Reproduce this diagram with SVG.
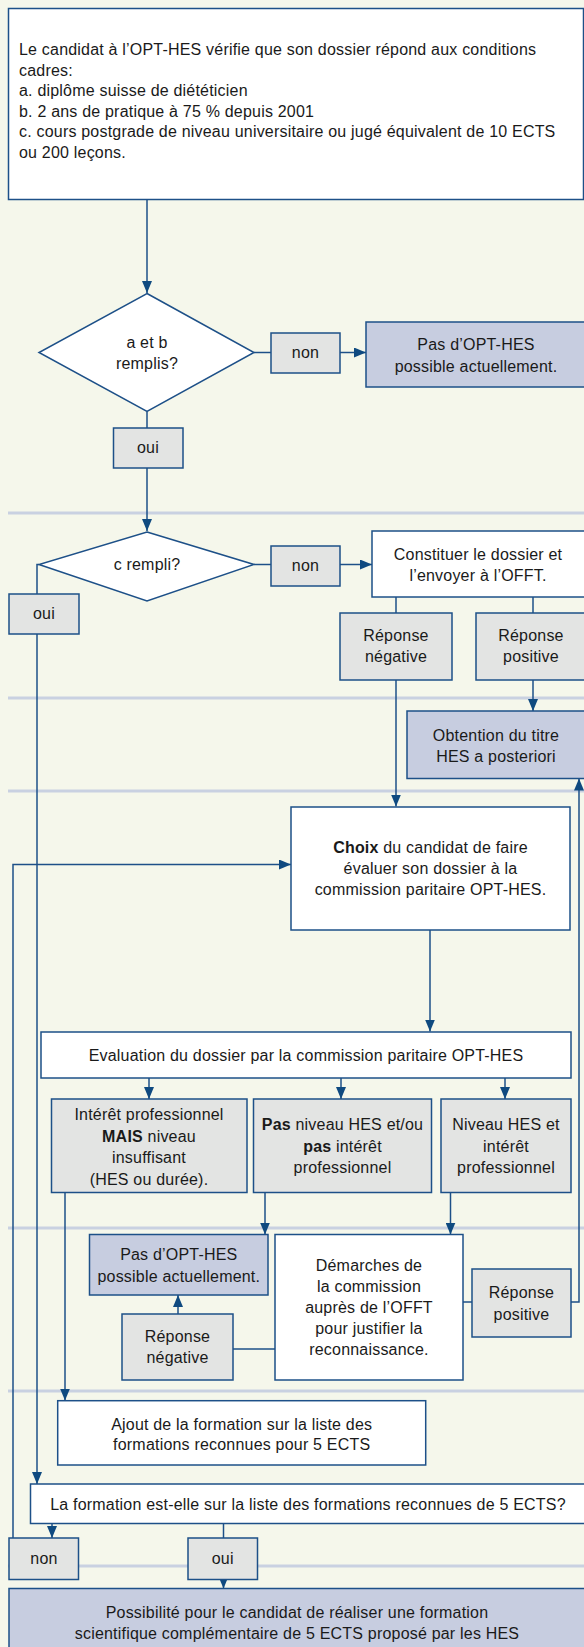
<svg xmlns="http://www.w3.org/2000/svg" width="584" height="1647" viewBox="0 0 584 1647">
<defs>
<style>
text{font-family:"Liberation Sans",Arial,sans-serif;font-size:16px;letter-spacing:0.2px;fill:#1a1a1a}
.c{text-anchor:middle}
.b{font-weight:bold}
.box{stroke:#1d5088;stroke-width:1.5}
.w{fill:#ffffff}
.g{fill:#e3e4e3}
.p{fill:#c7cde0}
.sep{stroke:#c9d1e1;stroke-width:3;fill:none}
.ln{stroke:#1d5088;stroke-width:1.5;fill:none}
.ar{stroke:#1d5088;stroke-width:1.5;fill:none;marker-end:url(#ah)}
</style>
<marker id="ah" markerUnits="userSpaceOnUse" markerWidth="12" markerHeight="10" refX="12" refY="5" orient="auto">
<path d="M0,0 L12,5 L0,10 Z" fill="#0f4a80"/>
</marker>
</defs>
<rect x="0" y="0" width="584" height="1647" fill="#f5f7eb"/>
<g id="separators">
<line class="sep" x1="8" y1="513" x2="584" y2="513"/>
<line class="sep" x1="8" y1="698" x2="584" y2="698"/>
<line class="sep" x1="8" y1="791" x2="584" y2="791"/>
<line class="sep" x1="8" y1="1228" x2="584" y2="1228"/>
<line class="sep" x1="8" y1="1391" x2="584" y2="1391"/>
<line class="sep" x1="8" y1="1566" x2="584" y2="1566"/>
</g>
<g id="connectors">
<path class="ar" d="M147,199.5 V293"/>
<path class="ln" d="M254,352.5 H271"/>
<path class="ar" d="M340,352.5 H366"/>
<path class="ln" d="M147,411.5 V428"/>
<path class="ar" d="M147,468 V531"/>
<path class="ln" d="M254,564.5 H271"/>
<path class="ar" d="M340,564.5 H372"/>
<path class="ln" d="M39,564.5 H37 V594"/>
<path class="ar" d="M37,634 V1484"/>
<path class="ln" d="M396,597 V613"/>
<path class="ln" d="M533,597 V613"/>
<path class="ar" d="M396,680 V806.5"/>
<path class="ar" d="M533,680 V711"/>
<path class="ar" d="M13,1538 V864.5 H291"/>
<path class="ar" d="M571,1302 H579 V778.5"/>
<path class="ar" d="M430,930 V1031.5"/>
<path class="ar" d="M149,1078 V1099"/>
<path class="ar" d="M341,1078 V1099"/>
<path class="ar" d="M505,1078 V1099"/>
<path class="ar" d="M65,1192.5 V1400.5"/>
<path class="ar" d="M265,1192.5 V1234.5"/>
<path class="ar" d="M450.5,1192.5 V1234.5"/>
<path class="ar" d="M178,1314 V1295"/>
<path class="ln" d="M233,1349 H275"/>
<path class="ln" d="M463,1302 H472"/>
<path class="ar" d="M52,1523.5 V1538"/>
<path class="ln" d="M223.5,1523.5 V1538"/>
<path class="ar" d="M223.5,1579.5 V1588.5"/>
</g>
<g id="n_start">
<rect class="box w" x="8.5" y="8.5" width="575" height="191"/>
<text x="19" y="55">Le candidat à l’OPT-HES vérifie que son dossier répond aux conditions</text>
<text x="19" y="75.5">cadres:</text>
<text x="19" y="96">a. diplôme suisse de diététicien</text>
<text x="19" y="116.5">b. 2 ans de pratique à 75 % depuis 2001</text>
<text x="19" y="137">c. cours postgrade de niveau universitaire ou jugé équivalent de 10 ECTS</text>
<text x="19" y="157.5">ou 200 leçons.</text>
</g>
<g id="n_d1">
<polygon class="box w" points="147,293.5 254,352.5 147,411.5 39,352.5"/>
<text class="c" x="147" y="348">a et b</text>
<text class="c" x="147" y="369">remplis?</text>
</g>
<g id="n_non1">
<rect class="box g" x="271" y="333" width="69" height="40"/>
<text class="c" x="305.5" y="358">non</text>
</g>
<g id="n_pas1">
<rect class="box p" x="366" y="322" width="220" height="65"/>
<text class="c" x="476" y="350">Pas d’OPT-HES</text>
<text class="c" x="476" y="372">possible actuellement.</text>
</g>
<g id="n_oui1">
<rect class="box g" x="113.5" y="428" width="69.5" height="40"/>
<text class="c" x="148" y="453">oui</text>
</g>
<g id="n_d2">
<polygon class="box w" points="147,532 254,564.5 147,601 39,564.5"/>
<text class="c" x="147" y="569.5">c rempli?</text>
</g>
<g id="n_non2">
<rect class="box g" x="271" y="546" width="69" height="40"/>
<text class="c" x="305.5" y="571">non</text>
</g>
<g id="n_constituer">
<rect class="box w" x="372" y="531" width="214" height="66"/>
<text class="c" x="478" y="560">Constituer le dossier et</text>
<text class="c" x="478" y="581">l’envoyer à l’OFFT.</text>
</g>
<g id="n_oui2">
<rect class="box g" x="9" y="594" width="70" height="40"/>
<text class="c" x="44" y="619">oui</text>
</g>
<g id="n_neg1">
<rect class="box g" x="340" y="613" width="112" height="67"/>
<text class="c" x="396" y="641">Réponse</text>
<text class="c" x="396" y="662">négative</text>
</g>
<g id="n_pos1">
<rect class="box g" x="476" y="613" width="112" height="67"/>
<text class="c" x="531" y="641">Réponse</text>
<text class="c" x="531" y="662">positive</text>
</g>
<g id="n_obtention">
<rect class="box p" x="407" y="711" width="180" height="67.5"/>
<text class="c" x="496" y="741">Obtention du titre</text>
<text class="c" x="496" y="762">HES a posteriori</text>
</g>
<g id="n_choix">
<rect class="box w" x="291" y="807" width="279" height="123"/>
<text class="c" x="430.5" y="853"><tspan class="b">Choix</tspan> du candidat de faire</text>
<text class="c" x="430.5" y="874">évaluer son dossier à la</text>
<text class="c" x="430.5" y="895">commission paritaire OPT-HES.</text>
</g>
<g id="n_eval">
<rect class="box w" x="41" y="1032" width="530" height="46"/>
<text class="c" x="306" y="1061">Evaluation du dossier par la commission paritaire OPT-HES</text>
</g>
<g id="n_a">
<rect class="box g" x="51.5" y="1099" width="195.5" height="93.5"/>
<text class="c" x="149" y="1120">Intérêt professionnel</text>
<text class="c" x="149" y="1141.5"><tspan class="b">MAIS</tspan> niveau</text>
<text class="c" x="149" y="1163">insuffisant</text>
<text class="c" x="149" y="1184.5">(HES ou durée).</text>
</g>
<g id="n_b">
<rect class="box g" x="253.5" y="1099" width="178" height="93.5"/>
<text class="c" x="342.5" y="1130"><tspan class="b">Pas</tspan> niveau HES et/ou</text>
<text class="c" x="342.5" y="1152"><tspan class="b">pas</tspan> intérêt</text>
<text class="c" x="342.5" y="1173">professionnel</text>
</g>
<g id="n_c">
<rect class="box g" x="441" y="1099" width="130" height="93.5"/>
<text class="c" x="506" y="1130">Niveau HES et</text>
<text class="c" x="506" y="1152">intérêt</text>
<text class="c" x="506" y="1173">professionnel</text>
</g>
<g id="n_pas2">
<rect class="box p" x="89.5" y="1234.5" width="178.5" height="60.5"/>
<text class="c" x="178.8" y="1260">Pas d’OPT-HES</text>
<text class="c" x="178.8" y="1281.5">possible actuellement.</text>
</g>
<g id="n_demarches">
<rect class="box w" x="275" y="1234.5" width="188" height="145.5"/>
<text class="c" x="369" y="1270.5">Démarches de</text>
<text class="c" x="369" y="1291.5">la commission</text>
<text class="c" x="369" y="1313">auprès de l’OFFT</text>
<text class="c" x="369" y="1334">pour justifier la</text>
<text class="c" x="369" y="1355">reconnaissance.</text>
</g>
<g id="n_neg2">
<rect class="box g" x="122" y="1314" width="111" height="66"/>
<text class="c" x="177.5" y="1341.5">Réponse</text>
<text class="c" x="177.5" y="1362.5">négative</text>
</g>
<g id="n_pos2">
<rect class="box g" x="472" y="1269" width="99" height="68"/>
<text class="c" x="521.5" y="1298">Réponse</text>
<text class="c" x="521.5" y="1320">positive</text>
</g>
<g id="n_ajout">
<rect class="box w" x="57.7" y="1400.7" width="368" height="64.3"/>
<text class="c" x="241.7" y="1430">Ajout de la formation sur la liste des</text>
<text class="c" x="241.7" y="1450">formations reconnues pour 5 ECTS</text>
</g>
<g id="n_liste">
<rect class="box w" x="30.5" y="1484" width="560" height="39.5"/>
<text class="c" x="308" y="1509.5">La formation est-elle sur la liste des formations reconnues de 5 ECTS?</text>
</g>
<g id="n_non3">
<rect class="box g" x="9" y="1538" width="69.5" height="41.5"/>
<text class="c" x="44" y="1564">non</text>
</g>
<g id="n_oui3">
<rect class="box g" x="188" y="1538" width="69.5" height="41.5"/>
<text class="c" x="222.7" y="1564">oui</text>
</g>
<g id="n_final">
<rect class="box p" x="9" y="1588.5" width="580" height="70"/>
<text class="c" x="297" y="1617.5">Possibilité pour le candidat de réaliser une formation</text>
<text class="c" x="297" y="1638.5">scientifique complémentaire de 5 ECTS proposé par les HES</text>
</g>
</svg>
